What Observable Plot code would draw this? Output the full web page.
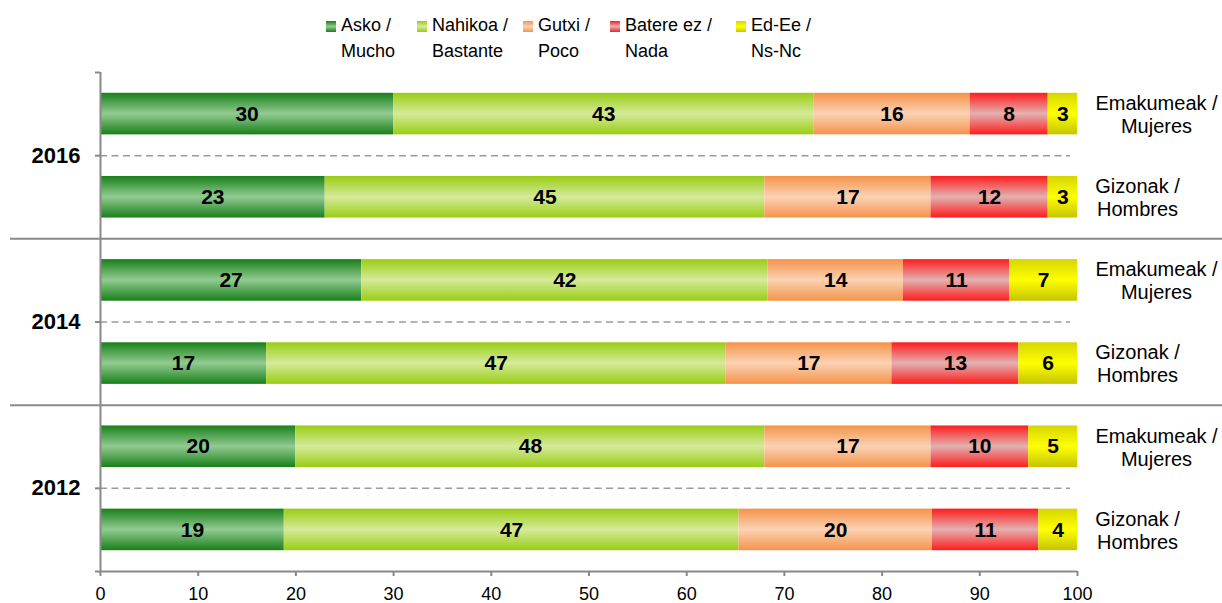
<!DOCTYPE html>
<html><head><meta charset="utf-8">
<script src="https://cdn.jsdelivr.net/npm/d3@7"></script>
<script src="https://cdn.jsdelivr.net/npm/@observablehq/plot@0.6"></script>
<style>
body{margin:0;background:#fff;font-family:"Liberation Sans",Arial,sans-serif;}
#legend{position:relative;height:66px;width:1222px;}
.item{position:absolute;top:0;height:66px;}
.sw{position:absolute;left:0;top:21px;width:10px;height:11px;}
.lab{position:absolute;left:15px;top:13px;font-size:18px;line-height:25.5px;white-space:pre;color:#000;}
</style>
</head><body>
<div id="legend"></div>
<div id="chart"></div>
<script>
// ---- data ----
const years = ["2016", "2014", "2012"];
const sexes = ["Emakumeak /\nMujeres", "Gizonak /\nHombres"];
const categories = ["Asko /\nMucho", "Nahikoa /\nBastante", "Gutxi /\nPoco", "Batere ez /\nNada", "Ed-Ee /\nNs-Nc"];
// rows top to bottom: 2016 E, 2016 G, 2014 E, 2014 G, 2012 E, 2012 G
const asko    = [30, 23, 27, 17, 20, 19];
const nahikoa = [43, 45, 42, 47, 48, 47];
const gutxi   = [16, 17, 14, 17, 17, 20];
const batere  = [ 8, 12, 11, 13, 10, 11];
const edee    = [ 3,  3,  7,  6,  5,  4];
const xTicks  = [0, 10, 20, 30, 40, 50, 60, 70, 80, 90, 100];

// ---- styles ----
const gradients = [
  [[0, "#188018"], [0.5, "#92cb92"], [1, "#188018"]],
  [[0, "#9acd14"], [0.5, "#d5ea9a"], [1, "#9acd14"]],
  [[0, "#f5934a"], [0.5, "#fbd2b4"], [1, "#f5934a"]],
  [[0, "#ff1c1c"], [0.5, "#e2b1b1"], [1, "#ff1c1c"]],
  [[0, "#d6d600"], [0.5, "#ffff00"], [1, "#c6c400"]]
];
const legendLeft = [326, 417, 523, 610, 736];

// ---- build table ----
const series = [asko, nahikoa, gutxi, batere, edee];
const rows = years.flatMap((yr, i) => sexes.map((sx, j) => ({year: yr, sex: sx, j, r: i * 2 + j})));
const table = rows.flatMap(row => {
  const total = d3.sum(series, s => s[row.r]);
  return categories.map((c, k) => ({
    cat: c, value: series[k][row.r], share: series[k][row.r] * 100 / total,
    y1: row.r + 0.25, y2: row.r + 0.75, yc: row.r + 0.5
  }));
});
const labelRows = rows.map(d => ({...d, yc: d.r + 0.5}));

// ---- legend ----
const legend = document.getElementById("legend");
categories.forEach((c, k) => {
  const g = gradients[k];
  const it = document.createElement("div");
  it.className = "item";
  it.style.left = legendLeft[k] + "px";
  const sw = document.createElement("div");
  sw.className = "sw";
  sw.style.background = `linear-gradient(to bottom, ${g.map(s => s[1] + " " + (s[0] * 100) + "%").join(",")})`;
  const lab = document.createElement("div");
  lab.className = "lab";
  lab.textContent = c;
  it.appendChild(sw); it.appendChild(lab);
  legend.appendChild(it);
});

// ---- chart ----
const axisColor = "#898989";
const chart = Plot.plot({
  width: 1222,
  height: 537,
  marginTop: 6,
  marginBottom: 32,
  marginLeft: 100,
  marginRight: 145,
  style: {fontFamily: "'Liberation Sans', Arial, sans-serif", overflow: "visible", background: "#fff"},
  x: {domain: [0, 100]},
  y: {domain: [0, 6], reverse: true},
  color: {domain: categories, range: gradients.map((g, k) => `url(#grad${k})`)},
  marks: [
    Plot.ruleY([2, 4], {stroke: axisColor, strokeWidth: 2, insetLeft: -90, insetRight: -145}),
    Plot.ruleY([1, 3, 5], {stroke: "#9a9a9a", strokeWidth: 1.5, strokeDasharray: "7,4.5", insetRight: 7}),
    Plot.rectX(table, Plot.stackX({x: "share", y1: "y1", y2: "y2", fill: "cat"})),
    Plot.text(table, Plot.stackX({x: "share", y: "yc", text: "value", fontSize: 21, fontWeight: "bold", fill: "black"})),
    Plot.text(labelRows.filter(d => d.j === 0), {y: "yc", text: "sex", frameAnchor: "right", dx: 79, textAnchor: "middle", fontSize: 20, lineHeight: 1.15, fill: "black"}),
    Plot.text(labelRows.filter(d => d.j === 1), {y: "yc", text: "sex", frameAnchor: "right", dx: 60, textAnchor: "middle", fontSize: 20, lineHeight: 1.15, fill: "black"}),
    Plot.ruleX([0], {stroke: axisColor, strokeWidth: 2}),
    Plot.ruleY([6], {stroke: axisColor, strokeWidth: 2}),
    Plot.axisX({ticks: xTicks, tickSize: 5, tickPadding: 11, fontSize: 18, stroke: axisColor, strokeWidth: 2, fill: "black", label: null}),
    Plot.axisY({ticks: [0, 1, 3, 5, 6], tickFormat: d => d % 2 === 1 ? years[(d - 1) / 2] : "",
      tickSize: 5, tickPadding: 15, fontSize: 22, fontWeight: "bold", stroke: axisColor, strokeWidth: 2, fill: "black", label: null})
  ]
});
const defs = d3.select(chart).insert("defs", ":first-child");
gradients.forEach((g, k) => {
  const lg = defs.append("linearGradient").attr("id", `grad${k}`).attr("x1", 0).attr("y1", 0).attr("x2", 0).attr("y2", 1);
  g.forEach(([o, c]) => lg.append("stop").attr("offset", o).attr("stop-color", c));
});
document.getElementById("chart").appendChild(chart);
</script>
</body></html>
